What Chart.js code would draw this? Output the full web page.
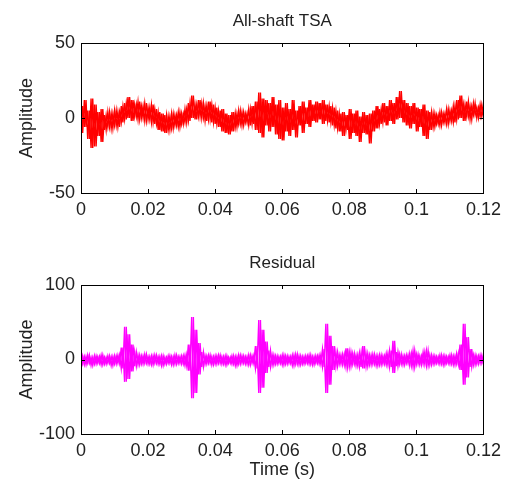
<!DOCTYPE html>
<html>
    <head>
        <title>All-shaft TSA / Residual</title>
        <style>
            body { margin: 0; background: #fff; }
            .wrap { position: absolute; left: 0; width: 507px; }
            #top { top: 0; height: 240px; }
            #bottom { top: 240px; height: 253px; }
        </style>
        <script src="https://cdn.jsdelivr.net/npm/chart.js"></script>
    </head>
<body>
    <div class="wrap" id="top"><canvas id="tsaChart" width="507" height="240"></canvas></div>
    <div class="wrap" id="bottom"><canvas id="resChart" width="507" height="253"></canvas></div>

    <script>
        // sample spacing of the envelope readings (s)
        const step = 0.001;
        const xTickLabels = ["0", "0.02", "0.04", "0.06", "0.08", "0.1", "0.12"];
        const tsaTicks = [-50, 0, 50];
        const resTicks = [-100, 0, 100];

        // All-shaft TSA: upper / lower excursion read every 1 ms
        const tsaHigh = [8,12,5,13,9,4,6,2,4,3,5,4,8,10,14,12,9,11,8,10,
                         7,9,6,4,3,2,1,3,2,4,3,6,10,15,9,12,10,8,11,9,
                         7,5,6,3,2,4,3,5,4,3,6,8,11,17,13,12,10,14,9,12,
                         7,10,6,12,5,8,11,7,12,9,11,10,12,9,8,7,5,3,4,2,
                         6,3,5,1,4,2,3,5,8,6,10,8,12,10,14,18,12,10,8,10,
                         7,6,9,5,4,3,2,4,3,6,5,8,12,15,9,11,8,10,7,9,6];
        const tsaLow = [-10,-6,-14,-20,-19,-12,-16,-8,-6,-7,-5,-6,-3,-1,0,-2,1,-1,0,-2,
                        -1,-3,-4,-8,-9,-10,-8,-7,-5,-6,-4,-3,-2,0,-1,1,0,-2,-1,-3,
                        -4,-6,-9,-10,-11,-9,-6,-4,-5,-3,-5,-4,-8,-10,-13,-5,-9,-6,-11,-14,
                        -15,-9,-12,-8,-13,-5,-10,-4,-6,-2,-3,-1,-4,-2,-3,-5,-7,-9,-12,-8,
                        -14,-10,-12,-16,-10,-11,-17,-9,-7,-4,-3,-5,-2,-4,-1,0,-3,-5,-7,-4,
                        -9,-6,-12,-14,-8,-6,-4,-5,-3,-4,-2,-3,-1,0,-2,1,-1,2,0,1,2];

        // Residual: upper / lower excursion read every 1 ms
        const resHigh = [5,4,6,3,5,4,6,3,5,4,5,6,16,44,34,20,10,6,5,7,
                         4,5,6,4,5,3,5,4,6,4,5,6,20,57,40,22,10,5,6,4,
                         5,6,4,5,3,5,4,6,5,4,6,5,18,53,40,24,12,6,5,4,
                         6,5,4,6,7,5,4,5,6,4,5,6,14,48,32,18,10,6,7,15,
                         10,8,6,9,18,8,6,7,5,6,5,8,12,25,10,7,5,6,8,12,
                         7,5,10,12,6,5,4,6,5,4,6,5,8,20,48,30,14,6,5,6,5];
        const resLow = [-6,-7,-5,-8,-6,-5,-7,-6,-5,-8,-6,-5,-12,-30,-26,-16,-9,-7,-6,-5,
                        -6,-7,-5,-6,-8,-6,-5,-7,-6,-5,-6,-8,-15,-52,-45,-20,-10,-6,-5,-7,
                        -6,-5,-6,-7,-5,-6,-8,-6,-5,-6,-7,-5,-12,-45,-38,-18,-10,-7,-6,-5,
                        -7,-6,-5,-8,-6,-7,-6,-5,-6,-7,-5,-6,-10,-45,-34,-14,-9,-6,-7,-10,
                        -9,-6,-8,-10,-12,-9,-7,-6,-8,-7,-6,-7,-10,-18,-9,-6,-7,-5,-8,-10,
                        -6,-7,-6,-8,-7,-6,-5,-6,-7,-5,-6,-7,-6,-14,-34,-24,-10,-7,-6,-5,-6];

        // alternate upper/lower readings so the trace swings like the raw signal
        function zigzag(first, second) {
            let pts = [];
            for (let i = 0; i < first.length; i++) {
                pts.push({ x: i * step, y: first[i] });
                pts.push({ x: i * step + step / 2, y: second[i] });
            }
            return pts;
        }

        const FONT = "'Liberation Sans', Arial, sans-serif";
        const TEXT = "#222";

        // box, inward tick marks and the small title above the axes
        const boxPlugin = {
            id: "box",
            afterDraw(chart, args, opts) {
                const c = chart.ctx, a = chart.chartArea;
                const xs = chart.scales.x, ys = chart.scales.y;
                c.save();
                c.strokeStyle = "#000";
                c.lineWidth = 1;
                c.strokeRect(Math.round(a.left) + 0.5, Math.round(a.top) + 0.5,
                             Math.round(a.right - a.left), Math.round(a.bottom - a.top));
                c.beginPath();
                xs.ticks.forEach(t => {
                    const px = Math.round(xs.getPixelForValue(t.value)) + 0.5;
                    c.moveTo(px, a.bottom); c.lineTo(px, a.bottom - 4);
                    c.moveTo(px, a.top); c.lineTo(px, a.top + 4);
                });
                ys.ticks.forEach(t => {
                    const py = Math.round(ys.getPixelForValue(t.value)) + 0.5;
                    c.moveTo(a.left, py); c.lineTo(a.left + 4, py);
                    c.moveTo(a.right, py); c.lineTo(a.right - 4, py);
                });
                c.stroke();
                c.fillStyle = TEXT;
                c.font = "17px " + FONT;
                c.textAlign = "center";
                c.textBaseline = "middle";
                c.fillText(opts.text, (a.left + a.right) / 2, a.top - 22);
                c.restore();
            }
        };

        function trace(data, color) {
            return {
                data: data,
                borderColor: color,
                borderWidth: 1.4,
                pointRadius: 0,
                tension: 0,
                fill: false
            };
        }

        function makeChart(id, label, high, low, color, yMin, yMax, yTicks, topPad, showXTitle, xHeight) {
            const ctx = document.getElementById(id).getContext("2d");
            return new Chart(ctx, {
                type: "line",
                data: {
                    datasets: [trace(zigzag(high, low), color), trace(zigzag(low, high), color)]
                },
                options: {
                    responsive: false,
                    animation: false,
                    layout: { padding: { left: 0, right: 20, top: topPad, bottom: 0 } },
                    plugins: {
                        legend: { display: false },
                        tooltip: { enabled: false },
                        box: { text: label }
                    },
                    scales: {
                        x: {
                            type: "linear",
                            min: 0, max: 0.12,
                            afterBuildTicks: s => { s.ticks = xTickLabels.map(v => ({ value: parseFloat(v) })); },
                            afterFit: s => { s.height = xHeight; },
                            grid: { display: false, drawTicks: false },
                            border: { display: false },
                            ticks: {
                                padding: 6,
                                color: TEXT,
                                font: { size: 18, family: FONT },
                                maxRotation: 0,
                                autoSkip: false,
                                callback: (v, i) => xTickLabels[i]
                            },
                            title: {
                                display: showXTitle,
                                text: "Time (s)",
                                color: TEXT,
                                font: { size: 18, family: FONT },
                                padding: { top: 0, bottom: 12 }
                            }
                        },
                        y: {
                            min: yMin, max: yMax,
                            afterBuildTicks: s => { s.ticks = yTicks.map(v => ({ value: v })); },
                            afterFit: s => { s.width = 81; },
                            grid: { display: false, drawTicks: false },
                            border: { display: false },
                            ticks: {
                                padding: 6,
                                color: TEXT,
                                font: { size: 18, family: FONT },
                                callback: v => String(v)
                            },
                            title: {
                                display: true,
                                text: "Amplitude",
                                color: TEXT,
                                font: { size: 18, family: FONT },
                                padding: { top: 16, bottom: 0 }
                            }
                        }
                    }
                },
                plugins: [boxPlugin]
            });
        }

        makeChart("tsaChart", "All-shaft TSA", tsaHigh, tsaLow, "#ff0000", -50, 50, tsaTicks, 43, false, 47);
        makeChart("resChart", "Residual", resHigh, resLow, "#ff00ff", -100, 100, resTicks, 45, true, 59);
    </script>
</body>
</html>
